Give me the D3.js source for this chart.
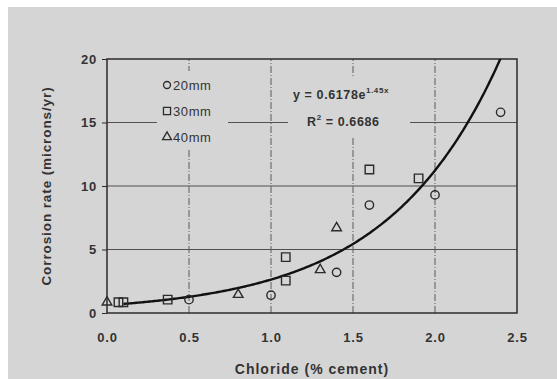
<!DOCTYPE html>
<html>
<head>
<meta charset="utf-8">
<script src="https://cdn.jsdelivr.net/npm/d3@7"></script>
<style>
  body { margin: 0; background: #fff; }
  svg { display: block; font-family: "Liberation Sans", Arial, sans-serif; }
</style>
</head>
<body>
<div id="chart"></div>
<script>
// values
const xTicks = [0, 0.5, 1.0, 1.5, 2.0, 2.5];
const yTicks = [0, 5, 10, 15, 20];

const mm20 = [[0.5, 1.05], [1.0, 1.4], [1.4, 3.2], [1.6, 8.5], [2.0, 9.3], [2.4, 15.8]];
const mm30 = [[0.07, 0.85], [0.1, 0.85], [0.37, 1.05], [1.09, 4.4], [1.09, 2.55], [1.6, 11.3], [1.9, 10.6]];
const mm40 = [[0.0, 0.85], [0.8, 1.45], [1.3, 3.4], [1.4, 6.7]];

const fitA = 0.6178, fitB = 1.45;
const fitRange = [0.1, 2.5];

const width = 557, height = 379;
const margin = { top: 59, right: 40, bottom: 66, left: 107 };

const svg = d3.select("#chart").append("svg")
    .attr("width", width)
    .attr("height", height);

// grey scanned page with a white strip top/left
svg.append("rect").attr("width", width).attr("height", height).attr("fill", "#fff");
svg.append("rect")
    .attr("x", 8).attr("y", 7)
    .attr("width", width - 8).attr("height", height - 7)
    .attr("fill", "#d5d5d5");

const x = d3.scaleLinear().domain([0, 2.5]).range([margin.left, width - margin.right]);
const y = d3.scaleLinear().domain([0, 20]).range([height - margin.bottom, margin.top]);

const ink = "#2b2b2b";
const textCol = "#333";

// gridlines
const grid = svg.append("g");
grid.selectAll("line.h")
    .data(yTicks.slice(1, -1))
    .enter().append("line")
    .attr("x1", x(0)).attr("x2", x(2.5))
    .attr("y1", d => y(d)).attr("y2", d => y(d))
    .attr("stroke", "#505050")
    .attr("stroke-width", 1.1);

grid.selectAll("line.v")
    .data(xTicks.slice(1, -1))
    .enter().append("line")
    .attr("x1", d => x(d)).attr("x2", d => x(d))
    .attr("y1", y(0)).attr("y2", y(20))
    .attr("stroke", "#5a5a5a")
    .attr("stroke-width", 1)
    .attr("stroke-dasharray", "7,2,1,2");

// boxes behind the legend and equation text hide the grid
svg.append("rect")
    .attr("x", 157).attr("y", 71).attr("width", 71).attr("height", 78)
    .attr("fill", "#d5d5d5");
svg.append("rect")
    .attr("x", 288).attr("y", 76).attr("width", 122).attr("height", 60)
    .attr("fill", "#d5d5d5");

// frame
svg.append("rect")
    .attr("x", x(0)).attr("y", y(20))
    .attr("width", x(2.5) - x(0)).attr("height", y(0) - y(20))
    .attr("fill", "none")
    .attr("stroke", ink)
    .attr("stroke-width", 1.5);

// axes
const yAxis = svg.append("g")
    .attr("transform", `translate(${x(0)},0)`)
    .call(d3.axisLeft(y).tickValues(yTicks).tickSize(5).tickPadding(5));
const xAxis = svg.append("g")
    .attr("transform", `translate(0,${y(0)})`)
    .call(d3.axisBottom(x).tickValues(xTicks).tickFormat(d3.format(".1f")).tickSize(0).tickPadding(20));

[yAxis, xAxis].forEach(ax => {
    ax.select(".domain").remove();
    ax.selectAll("line").attr("stroke", ink);
    ax.selectAll("text")
        .attr("fill", textCol)
        .attr("font-size", "13px")
        .attr("font-weight", "bold")
        .attr("letter-spacing", "0.8px")
        .style("font-family", "'Liberation Sans', Arial, sans-serif");
});

// axis titles
svg.append("text")
    .attr("transform", `translate(46,${(y(0) + y(20)) / 2}) rotate(-90)`)
    .attr("text-anchor", "middle")
    .attr("dy", "0.35em")
    .attr("font-size", "13.5px")
    .attr("font-weight", "bold")
    .attr("letter-spacing", "0.9px")
    .attr("fill", textCol)
    .text("Corrosion rate (microns/yr)");

svg.append("text")
    .attr("x", (x(0) + x(2.5)) / 2)
    .attr("y", 374)
    .attr("text-anchor", "middle")
    .attr("font-size", "14px")
    .attr("font-weight", "bold")
    .attr("letter-spacing", "1px")
    .attr("fill", textCol)
    .text("Chloride (% cement)");

// fitted curve, clipped to the frame
svg.append("clipPath").attr("id", "plot-clip")
    .append("rect")
    .attr("x", x(0)).attr("y", y(20))
    .attr("width", x(2.5) - x(0)).attr("height", y(0) - y(20));

const fitPts = d3.range(fitRange[0], fitRange[1] + 0.001, 0.01).map(v => [v, fitA * Math.exp(fitB * v)]);
svg.append("path")
    .datum(fitPts)
    .attr("clip-path", "url(#plot-clip)")
    .attr("fill", "none")
    .attr("stroke", "#111")
    .attr("stroke-width", 2.4)
    .attr("d", d3.line().x(d => x(d[0])).y(d => y(d[1])));

// markers
const circleSym = d3.symbol().type(d3.symbolCircle).size(55);
const squareSym = d3.symbol().type(d3.symbolSquare).size(72);
const triSym = d3.symbol().type(d3.symbolTriangle).size(40);

function drawSeries(data, sym) {
    svg.append("g").selectAll("path")
        .data(data)
        .enter().append("path")
        .attr("transform", d => `translate(${x(d[0])},${y(d[1])})`)
        .attr("d", sym)
        .attr("fill", "none")
        .attr("stroke", ink)
        .attr("stroke-width", 1.4);
}
drawSeries(mm20, circleSym);
drawSeries(mm30, squareSym);
drawSeries(mm40, triSym);

// legend
const legendItems = [
    ["20mm", d3.symbol().type(d3.symbolCircle).size(38)],
    ["30mm", d3.symbol().type(d3.symbolSquare).size(50)],
    ["40mm", d3.symbol().type(d3.symbolTriangle).size(34)]
];
const legend = svg.append("g").attr("transform", "translate(167,85)");
legendItems.forEach(([label, sym], i) => {
    const row = legend.append("g").attr("transform", `translate(0,${i * 26})`);
    row.append("path")
        .attr("d", sym)
        .attr("fill", "none")
        .attr("stroke", ink)
        .attr("stroke-width", 1.3);
    row.append("text")
        .attr("x", 6)
        .attr("dy", "0.35em")
        .attr("font-size", "13px")
        .attr("letter-spacing", "0.6px")
        .attr("fill", textCol)
        .text(label);
});

// trendline equation
const eq = svg.append("text")
    .attr("x", 293).attr("y", 99)
    .attr("font-size", "12.5px")
    .attr("font-weight", "bold")
    .attr("letter-spacing", "0.6px")
    .attr("fill", textCol);
eq.append("tspan").text("y = 0.6178e");
eq.append("tspan").attr("dy", -6).attr("font-size", "8px").text("1.45x");

const r2 = svg.append("text")
    .attr("x", 307).attr("y", 126)
    .attr("font-size", "12.5px")
    .attr("font-weight", "bold")
    .attr("letter-spacing", "0.6px")
    .attr("fill", textCol);
r2.append("tspan").text("R");
r2.append("tspan").attr("dy", -6).attr("font-size", "8px").text("2");
r2.append("tspan").attr("dy", 6).text(" = 0.6686");
</script>
</body>
</html>
